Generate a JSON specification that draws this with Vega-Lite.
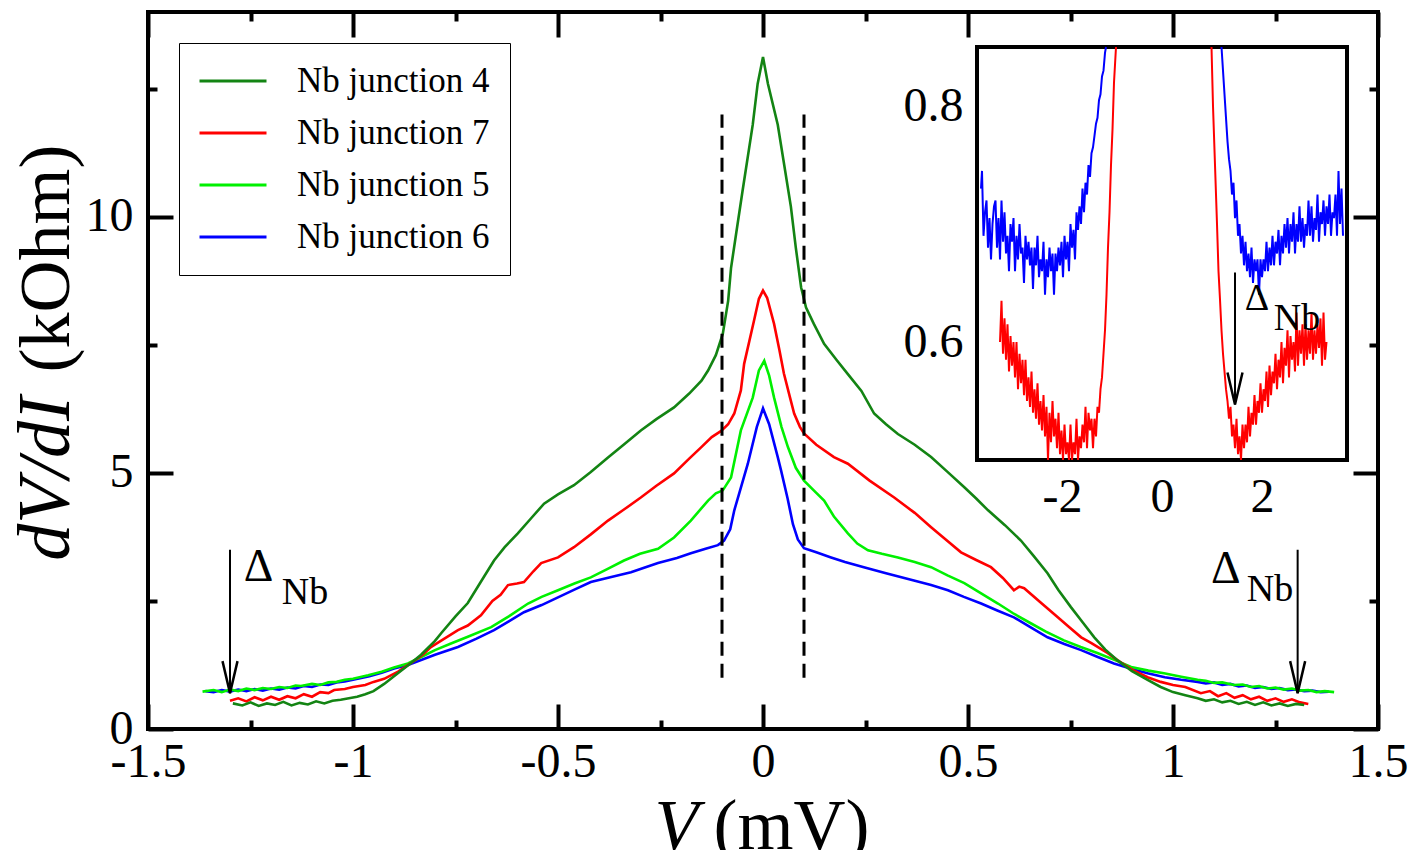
{
"$schema": "https://vega.github.io/schema/vega-lite/v6.json",
"width": 1230, "height": 717,
"autosize": {"type": "none"},
"padding": {"left": 148, "top": 12, "right": 30, "bottom": 121},
"background": "white",
"config": {
  "view": {"stroke": "black", "strokeWidth": 4},
  "axis": {"domain": false, "grid": false, "labelFont": "Liberation Serif", "labelFontSize": 48, "labelColor": "black", "tickColor": "black", "tickWidth": 4, "titleFont": "Liberation Serif", "titleFontSize": 72, "titleFontWeight": "normal", "titleColor": "black", "labelOverlap": false, "labelFlush": false, "zindex": 2},
  "text": {"font": "Liberation Serif", "color": "black"}
},
"datasets": {
  "main": [
{"s":"6","v":-1.36,"r":0.74},{"s":"6","v":-1.34,"r":0.72},{"s":"6","v":-1.32,"r":0.76},{"s":"6","v":-1.30,"r":0.73},{"s":"6","v":-1.28,"r":0.77},{"s":"6","v":-1.26,"r":0.74},{"s":"6","v":-1.24,"r":0.78},{"s":"6","v":-1.22,"r":0.75},{"s":"6","v":-1.20,"r":0.79},{"s":"6","v":-1.18,"r":0.77},{"s":"6","v":-1.16,"r":0.81},{"s":"6","v":-1.14,"r":0.79},{"s":"6","v":-1.12,"r":0.84},{"s":"6","v":-1.10,"r":0.82},{"s":"6","v":-1.08,"r":0.87},{"s":"6","v":-1.06,"r":0.86},{"s":"6","v":-1.04,"r":0.91},{"s":"6","v":-1.02,"r":0.93},{"s":"6","v":-1.0,"r":0.96},{"s":"6","v":-0.96,"r":1.03},{"s":"6","v":-0.93,"r":1.10},{"s":"6","v":-0.90,"r":1.18},{"s":"6","v":-0.866,"r":1.25},{"s":"6","v":-0.80,"r":1.45},{"s":"6","v":-0.744,"r":1.60},{"s":"6","v":-0.70,"r":1.76},{"s":"6","v":-0.656,"r":1.93},{"s":"6","v":-0.62,"r":2.10},{"s":"6","v":-0.583,"r":2.28},{"s":"6","v":-0.54,"r":2.42},{"s":"6","v":-0.50,"r":2.57},{"s":"6","v":-0.46,"r":2.72},{"s":"6","v":-0.42,"r":2.87},{"s":"6","v":-0.37,"r":2.97},{"s":"6","v":-0.322,"r":3.06},{"s":"6","v":-0.29,"r":3.15},{"s":"6","v":-0.256,"r":3.24},{"s":"6","v":-0.21,"r":3.34},{"s":"6","v":-0.176,"r":3.43},{"s":"6","v":-0.14,"r":3.52},{"s":"6","v":-0.11,"r":3.59},{"s":"6","v":-0.095,"r":3.68},{"s":"6","v":-0.08,"r":3.9},{"s":"6","v":-0.07,"r":4.27},{"s":"6","v":-0.058,"r":4.6},{"s":"6","v":-0.037,"r":5.18},{"s":"6","v":-0.015,"r":5.9},{"s":"6","v":0,"r":6.26},{"s":"6","v":0.015,"r":5.95},{"s":"6","v":0.036,"r":5.31},{"s":"6","v":0.044,"r":5.05},{"s":"6","v":0.06,"r":4.5},{"s":"6","v":0.073,"r":4.0},{"s":"6","v":0.085,"r":3.7},{"s":"6","v":0.1,"r":3.53},{"s":"6","v":0.13,"r":3.45},{"s":"6","v":0.166,"r":3.35},{"s":"6","v":0.2,"r":3.26},{"s":"6","v":0.246,"r":3.16},{"s":"6","v":0.3,"r":3.04},{"s":"6","v":0.368,"r":2.90},{"s":"6","v":0.41,"r":2.81},{"s":"6","v":0.451,"r":2.71},{"s":"6","v":0.49,"r":2.58},{"s":"6","v":0.532,"r":2.45},{"s":"6","v":0.57,"r":2.32},{"s":"6","v":0.612,"r":2.18},{"s":"6","v":0.65,"r":2.0},{"s":"6","v":0.694,"r":1.79},{"s":"6","v":0.735,"r":1.66},{"s":"6","v":0.776,"r":1.54},{"s":"6","v":0.815,"r":1.41},{"s":"6","v":0.856,"r":1.28},{"s":"6","v":0.9,"r":1.17},{"s":"6","v":0.938,"r":1.09},{"s":"6","v":0.98,"r":1.01},{"s":"6","v":1.02,"r":0.96},{"s":"6","v":1.06,"r":0.92},{"s":"6","v":1.08,"r":0.89},{"s":"6","v":1.10,"r":0.91},{"s":"6","v":1.12,"r":0.86},{"s":"6","v":1.14,"r":0.88},{"s":"6","v":1.16,"r":0.83},{"s":"6","v":1.18,"r":0.85},{"s":"6","v":1.20,"r":0.80},{"s":"6","v":1.22,"r":0.82},{"s":"6","v":1.24,"r":0.78},{"s":"6","v":1.26,"r":0.80},{"s":"6","v":1.28,"r":0.76},{"s":"6","v":1.30,"r":0.77},{"s":"6","v":1.32,"r":0.74},{"s":"6","v":1.34,"r":0.75},{"s":"6","v":1.36,"r":0.72},{"s":"6","v":1.38,"r":0.73},
{"s":"5","v":-1.367,"r":0.73},{"s":"5","v":-1.34,"r":0.76},{"s":"5","v":-1.32,"r":0.72},{"s":"5","v":-1.30,"r":0.77},{"s":"5","v":-1.28,"r":0.74},{"s":"5","v":-1.26,"r":0.79},{"s":"5","v":-1.24,"r":0.76},{"s":"5","v":-1.22,"r":0.80},{"s":"5","v":-1.20,"r":0.78},{"s":"5","v":-1.18,"r":0.82},{"s":"5","v":-1.16,"r":0.80},{"s":"5","v":-1.14,"r":0.85},{"s":"5","v":-1.127,"r":0.84},{"s":"5","v":-1.10,"r":0.88},{"s":"5","v":-1.08,"r":0.86},{"s":"5","v":-1.06,"r":0.91},{"s":"5","v":-1.04,"r":0.92},{"s":"5","v":-1.02,"r":0.96},{"s":"5","v":-1.0,"r":0.98},{"s":"5","v":-0.963,"r":1.05},{"s":"5","v":-0.93,"r":1.12},{"s":"5","v":-0.90,"r":1.2},{"s":"5","v":-0.866,"r":1.28},{"s":"5","v":-0.83,"r":1.42},{"s":"5","v":-0.80,"r":1.54},{"s":"5","v":-0.761,"r":1.67},{"s":"5","v":-0.72,"r":1.80},{"s":"5","v":-0.663,"r":1.99},{"s":"5","v":-0.62,"r":2.2},{"s":"5","v":-0.573,"r":2.45},{"s":"5","v":-0.54,"r":2.58},{"s":"5","v":-0.50,"r":2.71},{"s":"5","v":-0.46,"r":2.84},{"s":"5","v":-0.42,"r":2.96},{"s":"5","v":-0.38,"r":3.12},{"s":"5","v":-0.339,"r":3.29},{"s":"5","v":-0.30,"r":3.42},{"s":"5","v":-0.256,"r":3.52},{"s":"5","v":-0.217,"r":3.74},{"s":"5","v":-0.176,"r":4.07},{"s":"5","v":-0.134,"r":4.46},{"s":"5","v":-0.115,"r":4.6},{"s":"5","v":-0.098,"r":4.66},{"s":"5","v":-0.078,"r":4.91},{"s":"5","v":-0.054,"r":5.83},{"s":"5","v":-0.025,"r":6.47},{"s":"5","v":-0.01,"r":7.0},{"s":"5","v":0.003,"r":7.19},{"s":"5","v":0.015,"r":6.9},{"s":"5","v":0.027,"r":6.47},{"s":"5","v":0.045,"r":5.9},{"s":"5","v":0.061,"r":5.5},{"s":"5","v":0.08,"r":5.1},{"s":"5","v":0.1,"r":4.85},{"s":"5","v":0.125,"r":4.65},{"s":"5","v":0.149,"r":4.46},{"s":"5","v":0.173,"r":4.15},{"s":"5","v":0.207,"r":3.82},{"s":"5","v":0.23,"r":3.62},{"s":"5","v":0.256,"r":3.49},{"s":"5","v":0.29,"r":3.42},{"s":"5","v":0.329,"r":3.35},{"s":"5","v":0.37,"r":3.26},{"s":"5","v":0.41,"r":3.16},{"s":"5","v":0.45,"r":3.0},{"s":"5","v":0.491,"r":2.85},{"s":"5","v":0.53,"r":2.66},{"s":"5","v":0.573,"r":2.45},{"s":"5","v":0.61,"r":2.26},{"s":"5","v":0.654,"r":2.06},{"s":"5","v":0.69,"r":1.9},{"s":"5","v":0.734,"r":1.73},{"s":"5","v":0.775,"r":1.6},{"s":"5","v":0.817,"r":1.48},{"s":"5","v":0.86,"r":1.34},{"s":"5","v":0.898,"r":1.21},{"s":"5","v":0.94,"r":1.14},{"s":"5","v":0.978,"r":1.09},{"s":"5","v":1.02,"r":1.02},{"s":"5","v":1.06,"r":0.96},{"s":"5","v":1.08,"r":0.94},{"s":"5","v":1.10,"r":0.90},{"s":"5","v":1.12,"r":0.91},{"s":"5","v":1.149,"r":0.86},{"s":"5","v":1.17,"r":0.87},{"s":"5","v":1.19,"r":0.82},{"s":"5","v":1.21,"r":0.84},{"s":"5","v":1.23,"r":0.79},{"s":"5","v":1.25,"r":0.81},{"s":"5","v":1.27,"r":0.77},{"s":"5","v":1.29,"r":0.79},{"s":"5","v":1.31,"r":0.75},{"s":"5","v":1.33,"r":0.76},{"s":"5","v":1.35,"r":0.72},{"s":"5","v":1.37,"r":0.74},{"s":"5","v":1.393,"r":0.72},
{"s":"7","v":-1.30,"r":0.55},{"s":"7","v":-1.28,"r":0.60},{"s":"7","v":-1.26,"r":0.54},{"s":"7","v":-1.24,"r":0.62},{"s":"7","v":-1.22,"r":0.56},{"s":"7","v":-1.20,"r":0.63},{"s":"7","v":-1.18,"r":0.57},{"s":"7","v":-1.16,"r":0.64},{"s":"7","v":-1.14,"r":0.60},{"s":"7","v":-1.12,"r":0.68},{"s":"7","v":-1.10,"r":0.63},{"s":"7","v":-1.08,"r":0.72},{"s":"7","v":-1.06,"r":0.70},{"s":"7","v":-1.046,"r":0.76},{"s":"7","v":-1.02,"r":0.78},{"s":"7","v":-1.0,"r":0.82},{"s":"7","v":-0.97,"r":0.86},{"s":"7","v":-0.95,"r":0.92},{"s":"7","v":-0.924,"r":0.98},{"s":"7","v":-0.89,"r":1.12},{"s":"7","v":-0.86,"r":1.28},{"s":"7","v":-0.83,"r":1.45},{"s":"7","v":-0.81,"r":1.60},{"s":"7","v":-0.78,"r":1.75},{"s":"7","v":-0.744,"r":1.93},{"s":"7","v":-0.72,"r":2.02},{"s":"7","v":-0.688,"r":2.22},{"s":"7","v":-0.66,"r":2.5},{"s":"7","v":-0.64,"r":2.62},{"s":"7","v":-0.622,"r":2.81},{"s":"7","v":-0.60,"r":2.84},{"s":"7","v":-0.583,"r":2.87},{"s":"7","v":-0.56,"r":3.08},{"s":"7","v":-0.541,"r":3.24},{"s":"7","v":-0.50,"r":3.35},{"s":"7","v":-0.461,"r":3.55},{"s":"7","v":-0.42,"r":3.80},{"s":"7","v":-0.378,"r":4.07},{"s":"7","v":-0.34,"r":4.28},{"s":"7","v":-0.298,"r":4.52},{"s":"7","v":-0.26,"r":4.75},{"s":"7","v":-0.217,"r":4.99},{"s":"7","v":-0.18,"r":5.28},{"s":"7","v":-0.151,"r":5.5},{"s":"7","v":-0.125,"r":5.7},{"s":"7","v":-0.102,"r":5.82},{"s":"7","v":-0.085,"r":5.95},{"s":"7","v":-0.07,"r":6.16},{"s":"7","v":-0.054,"r":6.61},{"s":"7","v":-0.046,"r":7.13},{"s":"7","v":-0.022,"r":7.97},{"s":"7","v":-0.01,"r":8.4},{"s":"7","v":0,"r":8.56},{"s":"7","v":0.01,"r":8.42},{"s":"7","v":0.027,"r":7.91},{"s":"7","v":0.04,"r":7.4},{"s":"7","v":0.051,"r":6.94},{"s":"7","v":0.065,"r":6.5},{"s":"7","v":0.076,"r":6.16},{"s":"7","v":0.09,"r":5.9},{"s":"7","v":0.1,"r":5.77},{"s":"7","v":0.13,"r":5.55},{"s":"7","v":0.173,"r":5.31},{"s":"7","v":0.207,"r":5.18},{"s":"7","v":0.26,"r":4.85},{"s":"7","v":0.32,"r":4.52},{"s":"7","v":0.37,"r":4.22},{"s":"7","v":0.41,"r":3.94},{"s":"7","v":0.45,"r":3.67},{"s":"7","v":0.483,"r":3.45},{"s":"7","v":0.52,"r":3.3},{"s":"7","v":0.556,"r":3.16},{"s":"7","v":0.585,"r":2.95},{"s":"7","v":0.612,"r":2.71},{"s":"7","v":0.625,"r":2.78},{"s":"7","v":0.637,"r":2.75},{"s":"7","v":0.68,"r":2.45},{"s":"7","v":0.719,"r":2.18},{"s":"7","v":0.745,"r":2.0},{"s":"7","v":0.776,"r":1.79},{"s":"7","v":0.80,"r":1.68},{"s":"7","v":0.841,"r":1.48},{"s":"7","v":0.865,"r":1.34},{"s":"7","v":0.90,"r":1.16},{"s":"7","v":0.938,"r":1.01},{"s":"7","v":0.97,"r":0.92},{"s":"7","v":1.0,"r":0.86},{"s":"7","v":1.03,"r":0.82},{"s":"7","v":1.068,"r":0.70},{"s":"7","v":1.09,"r":0.74},{"s":"7","v":1.11,"r":0.64},{"s":"7","v":1.13,"r":0.70},{"s":"7","v":1.15,"r":0.61},{"s":"7","v":1.17,"r":0.66},{"s":"7","v":1.19,"r":0.58},{"s":"7","v":1.21,"r":0.63},{"s":"7","v":1.23,"r":0.55},{"s":"7","v":1.25,"r":0.60},{"s":"7","v":1.27,"r":0.53},{"s":"7","v":1.29,"r":0.58},{"s":"7","v":1.31,"r":0.52},{"s":"7","v":1.33,"r":0.49},
{"s":"4","v":-1.293,"r":0.50},{"s":"4","v":-1.27,"r":0.46},{"s":"4","v":-1.25,"r":0.52},{"s":"4","v":-1.23,"r":0.45},{"s":"4","v":-1.21,"r":0.50},{"s":"4","v":-1.19,"r":0.47},{"s":"4","v":-1.17,"r":0.53},{"s":"4","v":-1.15,"r":0.46},{"s":"4","v":-1.13,"r":0.51},{"s":"4","v":-1.11,"r":0.48},{"s":"4","v":-1.09,"r":0.54},{"s":"4","v":-1.07,"r":0.50},{"s":"4","v":-1.05,"r":0.55},{"s":"4","v":-1.03,"r":0.57},{"s":"4","v":-1.01,"r":0.60},{"s":"4","v":-0.99,"r":0.63},{"s":"4","v":-0.97,"r":0.68},{"s":"4","v":-0.95,"r":0.74},{"s":"4","v":-0.924,"r":0.88},{"s":"4","v":-0.90,"r":1.03},{"s":"4","v":-0.86,"r":1.28},{"s":"4","v":-0.834,"r":1.45},{"s":"4","v":-0.80,"r":1.72},{"s":"4","v":-0.785,"r":1.87},{"s":"4","v":-0.75,"r":2.20},{"s":"4","v":-0.72,"r":2.46},{"s":"4","v":-0.69,"r":2.85},{"s":"4","v":-0.656,"r":3.29},{"s":"4","v":-0.63,"r":3.55},{"s":"4","v":-0.598,"r":3.82},{"s":"4","v":-0.565,"r":4.12},{"s":"4","v":-0.534,"r":4.40},{"s":"4","v":-0.50,"r":4.58},{"s":"4","v":-0.461,"r":4.76},{"s":"4","v":-0.42,"r":5.02},{"s":"4","v":-0.378,"r":5.30},{"s":"4","v":-0.34,"r":5.55},{"s":"4","v":-0.298,"r":5.83},{"s":"4","v":-0.26,"r":6.05},{"s":"4","v":-0.217,"r":6.28},{"s":"4","v":-0.18,"r":6.55},{"s":"4","v":-0.15,"r":6.80},{"s":"4","v":-0.134,"r":7.00},{"s":"4","v":-0.115,"r":7.30},{"s":"4","v":-0.098,"r":7.72},{"s":"4","v":-0.085,"r":8.36},{"s":"4","v":-0.078,"r":9.0},{"s":"4","v":-0.065,"r":9.7},{"s":"4","v":-0.05,"r":10.5},{"s":"4","v":-0.025,"r":11.8},{"s":"4","v":-0.013,"r":12.6},{"s":"4","v":0,"r":13.12},{"s":"4","v":0.012,"r":12.6},{"s":"4","v":0.036,"r":11.8},{"s":"4","v":0.05,"r":11.1},{"s":"4","v":0.068,"r":10.2},{"s":"4","v":0.08,"r":9.4},{"s":"4","v":0.093,"r":8.62},{"s":"4","v":0.105,"r":8.23},{"s":"4","v":0.124,"r":7.91},{"s":"4","v":0.149,"r":7.52},{"s":"4","v":0.18,"r":7.20},{"s":"4","v":0.207,"r":6.93},{"s":"4","v":0.24,"r":6.60},{"s":"4","v":0.271,"r":6.16},{"s":"4","v":0.30,"r":5.95},{"s":"4","v":0.329,"r":5.76},{"s":"4","v":0.37,"r":5.55},{"s":"4","v":0.41,"r":5.31},{"s":"4","v":0.45,"r":5.02},{"s":"4","v":0.491,"r":4.72},{"s":"4","v":0.52,"r":4.50},{"s":"4","v":0.549,"r":4.27},{"s":"4","v":0.59,"r":3.98},{"s":"4","v":0.629,"r":3.68},{"s":"4","v":0.66,"r":3.38},{"s":"4","v":0.694,"r":3.04},{"s":"4","v":0.72,"r":2.72},{"s":"4","v":0.751,"r":2.38},{"s":"4","v":0.78,"r":2.08},{"s":"4","v":0.808,"r":1.79},{"s":"4","v":0.835,"r":1.55},{"s":"4","v":0.865,"r":1.34},{"s":"4","v":0.90,"r":1.13},{"s":"4","v":0.938,"r":0.96},{"s":"4","v":0.97,"r":0.82},{"s":"4","v":1.0,"r":0.72},{"s":"4","v":1.03,"r":0.66},{"s":"4","v":1.06,"r":0.60},{"s":"4","v":1.08,"r":0.55},{"s":"4","v":1.10,"r":0.58},{"s":"4","v":1.12,"r":0.52},{"s":"4","v":1.14,"r":0.55},{"s":"4","v":1.16,"r":0.49},{"s":"4","v":1.18,"r":0.53},{"s":"4","v":1.20,"r":0.47},{"s":"4","v":1.22,"r":0.52},{"s":"4","v":1.24,"r":0.46},{"s":"4","v":1.26,"r":0.50},{"s":"4","v":1.28,"r":0.45},{"s":"4","v":1.30,"r":0.49},{"s":"4","v":1.32,"r":0.47}
  ],
  "inset": [
{"s":"6","g":"L","v":-3.62,"r":0.73},{"s":"6","g":"L","v":-3.60,"r":0.745},{"s":"6","g":"L","v":-3.57,"r":0.69},{"s":"6","g":"L","v":-3.54,"r":0.71},{"s":"6","g":"L","v":-3.51,"r":0.72},{"s":"6","g":"L","v":-3.48,"r":0.68},{"s":"6","g":"L","v":-3.45,"r":0.705},{"s":"6","g":"L","v":-3.42,"r":0.67},{"s":"6","g":"L","v":-3.39,"r":0.70},{"s":"6","g":"L","v":-3.36,"r":0.715},{"s":"6","g":"L","v":-3.33,"r":0.72},{"s":"6","g":"L","v":-3.30,"r":0.68},{"s":"6","g":"L","v":-3.27,"r":0.705},{"s":"6","g":"L","v":-3.24,"r":0.67},{"s":"6","g":"L","v":-3.21,"r":0.72},{"s":"6","g":"L","v":-3.18,"r":0.685},{"s":"6","g":"L","v":-3.15,"r":0.71},{"s":"6","g":"L","v":-3.12,"r":0.675},{"s":"6","g":"L","v":-3.09,"r":0.69},{"s":"6","g":"L","v":-3.06,"r":0.66},{"s":"6","g":"L","v":-3.03,"r":0.70},{"s":"6","g":"L","v":-3.00,"r":0.685},{"s":"6","g":"L","v":-2.97,"r":0.705},{"s":"6","g":"L","v":-2.94,"r":0.66},{"s":"6","g":"L","v":-2.91,"r":0.69},{"s":"6","g":"L","v":-2.88,"r":0.67},{"s":"6","g":"L","v":-2.85,"r":0.70},{"s":"6","g":"L","v":-2.82,"r":0.675},{"s":"6","g":"L","v":-2.79,"r":0.68},{"s":"6","g":"L","v":-2.76,"r":0.65},{"s":"6","g":"L","v":-2.73,"r":0.69},{"s":"6","g":"L","v":-2.70,"r":0.67},{"s":"6","g":"L","v":-2.67,"r":0.685},{"s":"6","g":"L","v":-2.64,"r":0.665},{"s":"6","g":"L","v":-2.61,"r":0.68},{"s":"6","g":"L","v":-2.58,"r":0.645},{"s":"6","g":"L","v":-2.55,"r":0.68},{"s":"6","g":"L","v":-2.52,"r":0.665},{"s":"6","g":"L","v":-2.49,"r":0.69},{"s":"6","g":"L","v":-2.46,"r":0.655},{"s":"6","g":"L","v":-2.43,"r":0.67},{"s":"6","g":"L","v":-2.40,"r":0.66},{"s":"6","g":"L","v":-2.37,"r":0.685},{"s":"6","g":"L","v":-2.34,"r":0.64},{"s":"6","g":"L","v":-2.31,"r":0.67},{"s":"6","g":"L","v":-2.28,"r":0.655},{"s":"6","g":"L","v":-2.25,"r":0.68},{"s":"6","g":"L","v":-2.22,"r":0.66},{"s":"6","g":"L","v":-2.19,"r":0.675},{"s":"6","g":"L","v":-2.16,"r":0.64},{"s":"6","g":"L","v":-2.13,"r":0.675},{"s":"6","g":"L","v":-2.10,"r":0.66},{"s":"6","g":"L","v":-2.07,"r":0.68},{"s":"6","g":"L","v":-2.04,"r":0.665},{"s":"6","g":"L","v":-2.01,"r":0.685},{"s":"6","g":"L","v":-1.98,"r":0.655},{"s":"6","g":"L","v":-1.95,"r":0.69},{"s":"6","g":"L","v":-1.92,"r":0.67},{"s":"6","g":"L","v":-1.89,"r":0.685},{"s":"6","g":"L","v":-1.86,"r":0.66},{"s":"6","g":"L","v":-1.83,"r":0.70},{"s":"6","g":"L","v":-1.80,"r":0.68},{"s":"6","g":"L","v":-1.77,"r":0.695},{"s":"6","g":"L","v":-1.74,"r":0.67},{"s":"6","g":"L","v":-1.71,"r":0.71},{"s":"6","g":"L","v":-1.68,"r":0.695},{"s":"6","g":"L","v":-1.65,"r":0.715},{"s":"6","g":"L","v":-1.62,"r":0.70},{"s":"6","g":"L","v":-1.59,"r":0.73},{"s":"6","g":"L","v":-1.56,"r":0.71},{"s":"6","g":"L","v":-1.53,"r":0.735},{"s":"6","g":"L","v":-1.50,"r":0.725},{"s":"6","g":"L","v":-1.47,"r":0.75},{"s":"6","g":"L","v":-1.44,"r":0.74},{"s":"6","g":"L","v":-1.41,"r":0.76},{"s":"6","g":"L","v":-1.38,"r":0.765},{"s":"6","g":"L","v":-1.35,"r":0.775},{"s":"6","g":"L","v":-1.32,"r":0.785},{"s":"6","g":"L","v":-1.29,"r":0.79},{"s":"6","g":"L","v":-1.26,"r":0.805},{"s":"6","g":"L","v":-1.23,"r":0.81},{"s":"6","g":"L","v":-1.20,"r":0.825},{"s":"6","g":"L","v":-1.17,"r":0.83},{"s":"6","g":"L","v":-1.14,"r":0.845},{"s":"6","g":"L","v":-1.12,"r":0.85},
{"s":"6","g":"R","v":1.19,"r":0.85},{"s":"6","g":"R","v":1.22,"r":0.83},{"s":"6","g":"R","v":1.25,"r":0.81},{"s":"6","g":"R","v":1.28,"r":0.79},{"s":"6","g":"R","v":1.31,"r":0.77},{"s":"6","g":"R","v":1.34,"r":0.755},{"s":"6","g":"R","v":1.37,"r":0.745},{"s":"6","g":"R","v":1.40,"r":0.725},{"s":"6","g":"R","v":1.43,"r":0.735},{"s":"6","g":"R","v":1.46,"r":0.705},{"s":"6","g":"R","v":1.49,"r":0.72},{"s":"6","g":"R","v":1.52,"r":0.69},{"s":"6","g":"R","v":1.55,"r":0.70},{"s":"6","g":"R","v":1.58,"r":0.675},{"s":"6","g":"R","v":1.61,"r":0.69},{"s":"6","g":"R","v":1.64,"r":0.665},{"s":"6","g":"R","v":1.67,"r":0.685},{"s":"6","g":"R","v":1.70,"r":0.66},{"s":"6","g":"R","v":1.73,"r":0.675},{"s":"6","g":"R","v":1.76,"r":0.655},{"s":"6","g":"R","v":1.79,"r":0.68},{"s":"6","g":"R","v":1.82,"r":0.65},{"s":"6","g":"R","v":1.85,"r":0.67},{"s":"6","g":"R","v":1.88,"r":0.66},{"s":"6","g":"R","v":1.91,"r":0.67},{"s":"6","g":"R","v":1.94,"r":0.64},{"s":"6","g":"R","v":1.97,"r":0.67},{"s":"6","g":"R","v":2.00,"r":0.655},{"s":"6","g":"R","v":2.03,"r":0.67},{"s":"6","g":"R","v":2.06,"r":0.66},{"s":"6","g":"R","v":2.09,"r":0.685},{"s":"6","g":"R","v":2.12,"r":0.66},{"s":"6","g":"R","v":2.15,"r":0.68},{"s":"6","g":"R","v":2.18,"r":0.665},{"s":"6","g":"R","v":2.21,"r":0.69},{"s":"6","g":"R","v":2.24,"r":0.665},{"s":"6","g":"R","v":2.27,"r":0.685},{"s":"6","g":"R","v":2.30,"r":0.675},{"s":"6","g":"R","v":2.33,"r":0.695},{"s":"6","g":"R","v":2.36,"r":0.665},{"s":"6","g":"R","v":2.39,"r":0.69},{"s":"6","g":"R","v":2.42,"r":0.675},{"s":"6","g":"R","v":2.45,"r":0.70},{"s":"6","g":"R","v":2.48,"r":0.68},{"s":"6","g":"R","v":2.51,"r":0.705},{"s":"6","g":"R","v":2.54,"r":0.675},{"s":"6","g":"R","v":2.57,"r":0.70},{"s":"6","g":"R","v":2.60,"r":0.685},{"s":"6","g":"R","v":2.63,"r":0.71},{"s":"6","g":"R","v":2.66,"r":0.675},{"s":"6","g":"R","v":2.69,"r":0.70},{"s":"6","g":"R","v":2.72,"r":0.685},{"s":"6","g":"R","v":2.75,"r":0.715},{"s":"6","g":"R","v":2.78,"r":0.685},{"s":"6","g":"R","v":2.81,"r":0.705},{"s":"6","g":"R","v":2.84,"r":0.68},{"s":"6","g":"R","v":2.87,"r":0.70},{"s":"6","g":"R","v":2.90,"r":0.69},{"s":"6","g":"R","v":2.93,"r":0.72},{"s":"6","g":"R","v":2.96,"r":0.69},{"s":"6","g":"R","v":2.99,"r":0.715},{"s":"6","g":"R","v":3.02,"r":0.685},{"s":"6","g":"R","v":3.05,"r":0.705},{"s":"6","g":"R","v":3.08,"r":0.695},{"s":"6","g":"R","v":3.11,"r":0.725},{"s":"6","g":"R","v":3.14,"r":0.685},{"s":"6","g":"R","v":3.17,"r":0.71},{"s":"6","g":"R","v":3.20,"r":0.70},{"s":"6","g":"R","v":3.23,"r":0.72},{"s":"6","g":"R","v":3.26,"r":0.69},{"s":"6","g":"R","v":3.29,"r":0.715},{"s":"6","g":"R","v":3.32,"r":0.70},{"s":"6","g":"R","v":3.35,"r":0.725},{"s":"6","g":"R","v":3.38,"r":0.69},{"s":"6","g":"R","v":3.41,"r":0.71},{"s":"6","g":"R","v":3.44,"r":0.705},{"s":"6","g":"R","v":3.47,"r":0.725},{"s":"6","g":"R","v":3.50,"r":0.69},{"s":"6","g":"R","v":3.53,"r":0.745},{"s":"6","g":"R","v":3.56,"r":0.70},{"s":"6","g":"R","v":3.59,"r":0.73},{"s":"6","g":"R","v":3.62,"r":0.69},
{"s":"7","g":"L","v":-3.24,"r":0.60},{"s":"7","g":"L","v":-3.21,"r":0.635},{"s":"7","g":"L","v":-3.18,"r":0.59},{"s":"7","g":"L","v":-3.15,"r":0.62},{"s":"7","g":"L","v":-3.12,"r":0.585},{"s":"7","g":"L","v":-3.09,"r":0.615},{"s":"7","g":"L","v":-3.06,"r":0.575},{"s":"7","g":"L","v":-3.03,"r":0.605},{"s":"7","g":"L","v":-3.00,"r":0.58},{"s":"7","g":"L","v":-2.97,"r":0.60},{"s":"7","g":"L","v":-2.94,"r":0.57},{"s":"7","g":"L","v":-2.91,"r":0.60},{"s":"7","g":"L","v":-2.88,"r":0.56},{"s":"7","g":"L","v":-2.85,"r":0.59},{"s":"7","g":"L","v":-2.82,"r":0.565},{"s":"7","g":"L","v":-2.79,"r":0.585},{"s":"7","g":"L","v":-2.76,"r":0.555},{"s":"7","g":"L","v":-2.73,"r":0.585},{"s":"7","g":"L","v":-2.70,"r":0.55},{"s":"7","g":"L","v":-2.67,"r":0.57},{"s":"7","g":"L","v":-2.64,"r":0.545},{"s":"7","g":"L","v":-2.61,"r":0.575},{"s":"7","g":"L","v":-2.58,"r":0.54},{"s":"7","g":"L","v":-2.55,"r":0.56},{"s":"7","g":"L","v":-2.52,"r":0.535},{"s":"7","g":"L","v":-2.49,"r":0.565},{"s":"7","g":"L","v":-2.46,"r":0.53},{"s":"7","g":"L","v":-2.43,"r":0.55},{"s":"7","g":"L","v":-2.40,"r":0.525},{"s":"7","g":"L","v":-2.37,"r":0.555},{"s":"7","g":"L","v":-2.34,"r":0.52},{"s":"7","g":"L","v":-2.31,"r":0.545},{"s":"7","g":"L","v":-2.28,"r":0.50},{"s":"7","g":"L","v":-2.25,"r":0.54},{"s":"7","g":"L","v":-2.22,"r":0.515},{"s":"7","g":"L","v":-2.19,"r":0.55},{"s":"7","g":"L","v":-2.16,"r":0.52},{"s":"7","g":"L","v":-2.13,"r":0.535},{"s":"7","g":"L","v":-2.10,"r":0.51},{"s":"7","g":"L","v":-2.07,"r":0.54},{"s":"7","g":"L","v":-2.04,"r":0.505},{"s":"7","g":"L","v":-2.01,"r":0.525},{"s":"7","g":"L","v":-1.98,"r":0.50},{"s":"7","g":"L","v":-1.95,"r":0.53},{"s":"7","g":"L","v":-1.92,"r":0.505},{"s":"7","g":"L","v":-1.89,"r":0.515},{"s":"7","g":"L","v":-1.86,"r":0.50},{"s":"7","g":"L","v":-1.83,"r":0.53},{"s":"7","g":"L","v":-1.80,"r":0.50},{"s":"7","g":"L","v":-1.77,"r":0.515},{"s":"7","g":"L","v":-1.74,"r":0.505},{"s":"7","g":"L","v":-1.71,"r":0.535},{"s":"7","g":"L","v":-1.68,"r":0.50},{"s":"7","g":"L","v":-1.65,"r":0.52},{"s":"7","g":"L","v":-1.62,"r":0.51},{"s":"7","g":"L","v":-1.59,"r":0.53},{"s":"7","g":"L","v":-1.56,"r":0.515},{"s":"7","g":"L","v":-1.53,"r":0.545},{"s":"7","g":"L","v":-1.50,"r":0.51},{"s":"7","g":"L","v":-1.47,"r":0.54},{"s":"7","g":"L","v":-1.44,"r":0.525},{"s":"7","g":"L","v":-1.41,"r":0.535},{"s":"7","g":"L","v":-1.38,"r":0.51},{"s":"7","g":"L","v":-1.35,"r":0.535},{"s":"7","g":"L","v":-1.32,"r":0.52},{"s":"7","g":"L","v":-1.29,"r":0.545},{"s":"7","g":"L","v":-1.26,"r":0.54},{"s":"7","g":"L","v":-1.23,"r":0.56},{"s":"7","g":"L","v":-1.20,"r":0.57},{"s":"7","g":"L","v":-1.17,"r":0.59},{"s":"7","g":"L","v":-1.14,"r":0.61},{"s":"7","g":"L","v":-1.11,"r":0.64},{"s":"7","g":"L","v":-1.08,"r":0.68},{"s":"7","g":"L","v":-1.05,"r":0.71},{"s":"7","g":"L","v":-1.02,"r":0.75},{"s":"7","g":"L","v":-0.99,"r":0.78},{"s":"7","g":"L","v":-0.96,"r":0.82},{"s":"7","g":"L","v":-0.92,"r":0.85},
{"s":"7","g":"R","v":0.99,"r":0.85},{"s":"7","g":"R","v":1.02,"r":0.80},{"s":"7","g":"R","v":1.06,"r":0.75},{"s":"7","g":"R","v":1.10,"r":0.70},{"s":"7","g":"R","v":1.13,"r":0.66},{"s":"7","g":"R","v":1.16,"r":0.636},{"s":"7","g":"R","v":1.19,"r":0.61},{"s":"7","g":"R","v":1.22,"r":0.59},{"s":"7","g":"R","v":1.25,"r":0.575},{"s":"7","g":"R","v":1.28,"r":0.56},{"s":"7","g":"R","v":1.31,"r":0.55},{"s":"7","g":"R","v":1.34,"r":0.535},{"s":"7","g":"R","v":1.37,"r":0.545},{"s":"7","g":"R","v":1.40,"r":0.52},{"s":"7","g":"R","v":1.43,"r":0.53},{"s":"7","g":"R","v":1.46,"r":0.51},{"s":"7","g":"R","v":1.49,"r":0.535},{"s":"7","g":"R","v":1.52,"r":0.505},{"s":"7","g":"R","v":1.55,"r":0.52},{"s":"7","g":"R","v":1.58,"r":0.50},{"s":"7","g":"R","v":1.61,"r":0.53},{"s":"7","g":"R","v":1.64,"r":0.51},{"s":"7","g":"R","v":1.67,"r":0.53},{"s":"7","g":"R","v":1.70,"r":0.515},{"s":"7","g":"R","v":1.73,"r":0.545},{"s":"7","g":"R","v":1.76,"r":0.52},{"s":"7","g":"R","v":1.79,"r":0.54},{"s":"7","g":"R","v":1.82,"r":0.53},{"s":"7","g":"R","v":1.85,"r":0.555},{"s":"7","g":"R","v":1.88,"r":0.53},{"s":"7","g":"R","v":1.91,"r":0.55},{"s":"7","g":"R","v":1.94,"r":0.54},{"s":"7","g":"R","v":1.97,"r":0.565},{"s":"7","g":"R","v":2.00,"r":0.54},{"s":"7","g":"R","v":2.03,"r":0.56},{"s":"7","g":"R","v":2.06,"r":0.55},{"s":"7","g":"R","v":2.09,"r":0.575},{"s":"7","g":"R","v":2.12,"r":0.545},{"s":"7","g":"R","v":2.15,"r":0.58},{"s":"7","g":"R","v":2.18,"r":0.555},{"s":"7","g":"R","v":2.21,"r":0.575},{"s":"7","g":"R","v":2.24,"r":0.565},{"s":"7","g":"R","v":2.27,"r":0.59},{"s":"7","g":"R","v":2.30,"r":0.56},{"s":"7","g":"R","v":2.33,"r":0.585},{"s":"7","g":"R","v":2.36,"r":0.57},{"s":"7","g":"R","v":2.39,"r":0.60},{"s":"7","g":"R","v":2.42,"r":0.565},{"s":"7","g":"R","v":2.45,"r":0.595},{"s":"7","g":"R","v":2.48,"r":0.58},{"s":"7","g":"R","v":2.51,"r":0.61},{"s":"7","g":"R","v":2.54,"r":0.57},{"s":"7","g":"R","v":2.57,"r":0.605},{"s":"7","g":"R","v":2.60,"r":0.585},{"s":"7","g":"R","v":2.63,"r":0.60},{"s":"7","g":"R","v":2.66,"r":0.575},{"s":"7","g":"R","v":2.69,"r":0.625},{"s":"7","g":"R","v":2.72,"r":0.58},{"s":"7","g":"R","v":2.75,"r":0.61},{"s":"7","g":"R","v":2.78,"r":0.59},{"s":"7","g":"R","v":2.81,"r":0.615},{"s":"7","g":"R","v":2.84,"r":0.58},{"s":"7","g":"R","v":2.87,"r":0.615},{"s":"7","g":"R","v":2.90,"r":0.585},{"s":"7","g":"R","v":2.93,"r":0.61},{"s":"7","g":"R","v":2.96,"r":0.59},{"s":"7","g":"R","v":2.99,"r":0.625},{"s":"7","g":"R","v":3.02,"r":0.585},{"s":"7","g":"R","v":3.05,"r":0.61},{"s":"7","g":"R","v":3.08,"r":0.59},{"s":"7","g":"R","v":3.11,"r":0.615},{"s":"7","g":"R","v":3.14,"r":0.595},{"s":"7","g":"R","v":3.17,"r":0.62},{"s":"7","g":"R","v":3.20,"r":0.58},{"s":"7","g":"R","v":3.23,"r":0.625},{"s":"7","g":"R","v":3.26,"r":0.585},{"s":"7","g":"R","v":3.29,"r":0.60}
  ],
  "dashes": [{"v": -0.1, "r1": 1, "r2": 12}, {"v": 0.1, "r1": 1, "r2": 12}],
  "arrows": [{"v": -1.3, "r1": 3.5, "r2": 0.70}, {"v": 1.304, "r1": 3.5, "r2": 0.70}],
  "labels": [{"k": "d", "t": "Δ", "v": -1.2305, "r": 3.164}, {"k": "n", "t": "Nb", "v": -1.117, "r": 2.656}, {"k": "d", "t": "Δ", "v": 1.129, "r": 3.125}, {"k": "n", "t": "Nb", "v": 1.2366, "r": 2.715}],
  "iframe": [{"x1": -3.7, "x2": 3.7, "y1": 0.5, "y2": 0.85}],
  "iarrow": [{"v": 1.46, "r1": 0.659, "r2": 0.547}],
  "ilabels": [{"k": "d", "t": "Δ", "v": 1.9, "r": 0.6364}, {"k": "n", "t": "Nb", "v": 2.7, "r": 0.6195}]
},
"layer": [
  {
    "layer": [
      {
        "data": {"name": "main"},
        "mark": {"type": "line", "strokeWidth": 2.6},
        "encoding": {
          "x": {"field": "v", "type": "quantitative", "scale": {"domain": [-1.5, 1.5], "nice": false, "zero": false},
            "axis": {"orient": "bottom", "values": [-1.5,-1.25,-1,-0.75,-0.5,-0.25,0,0.25,0.5,0.75,1,1.25,1.5],
              "labelExpr": "abs(datum.value*2-round(datum.value*2))<0.001 ? toString(datum.value) : ''",
              "tickSize": {"condition": {"test": "abs(datum.value*2-round(datum.value*2))<0.001", "value": -25}, "value": -9},
              "labelPadding": 34, "title": "(mV)", "titleX": 643, "titleY": 119, "titleAlign": "center", "titleBaseline": "alphabetic"}},
          "y": {"field": "r", "type": "quantitative", "scale": {"domain": [0, 14], "nice": false, "zero": false},
            "axis": {"orient": "left", "values": [0, 2.5, 5, 7.5, 10, 12.5],
              "labelExpr": "datum.value % 5 == 0 ? toString(datum.value) : ''",
              "tickSize": {"condition": {"test": "datum.value % 5 == 0", "value": -25}, "value": -9},
              "labelPadding": 40, "title": "(kOhm)", "titleAngle": -90, "titleX": -80, "titleY": 246, "titleAlign": "center", "titleBaseline": "alphabetic"}},
          "color": {"field": "s", "type": "nominal",
            "scale": {"domain": ["4", "7", "5", "6"], "range": ["#138413", "#ff0000", "#00f000", "#0000ff"]},
            "legend": {"title": null, "orient": "top-left", "offset": 31, "labelExpr": "'Nb junction ' + datum.label",
              "symbolType": "M-1.06,0H3.0", "symbolSize": 1089, "symbolStrokeWidth": 3,
              "labelFont": "Liberation Serif", "labelFontSize": 35, "labelColor": "black", "labelOffset": 62, "labelLimit": 400,
              "rowPadding": 16, "padding": 20, "strokeColor": "black", "fillColor": "white"}}
        }
      },
      {
        "data": {"name": "dashes"},
        "mark": {"type": "rule", "strokeDash": [14, 8], "strokeWidth": 3, "color": "black"},
        "encoding": {
          "x": {"field": "v", "type": "quantitative", "scale": {"domain": [-1.5, 1.5], "nice": false, "zero": false},
            "axis": {"orient": "top", "values": [-1.5,-1.25,-1,-0.75,-0.5,-0.25,0,0.25,0.5,0.75,1,1.25,1.5], "labels": false, "title": null,
              "tickSize": {"condition": {"test": "abs(datum.value*2-round(datum.value*2))<0.001", "value": -25}, "value": -9}}},
          "y": {"field": "r1", "type": "quantitative", "scale": {"domain": [0, 14], "nice": false, "zero": false},
            "axis": {"orient": "right", "values": [0, 2.5, 5, 7.5, 10, 12.5], "labels": false, "title": null,
              "tickSize": {"condition": {"test": "datum.value % 5 == 0", "value": -25}, "value": -9}}},
          "y2": {"field": "r2"}
        }
      },
      {
        "data": {"name": "arrows"},
        "mark": {"type": "rule", "strokeWidth": 2, "color": "black"},
        "encoding": {
          "x": {"field": "v", "type": "quantitative", "scale": {"domain": [-1.5, 1.5], "nice": false, "zero": false},
            "axis": {"orient": "bottom", "labels": false, "ticks": false, "title": "V", "titleFontStyle": "italic", "titleX": 528, "titleY": 119, "titleAlign": "center", "titleBaseline": "alphabetic"}},
          "y": {"field": "r1", "type": "quantitative", "scale": {"domain": [0, 14], "nice": false, "zero": false},
            "axis": {"orient": "left", "labels": false, "ticks": false, "title": "dV/dI", "titleFontStyle": "italic", "titleFontSize": 74, "titleAngle": -90, "titleX": -80, "titleY": 466, "titleAlign": "center", "titleBaseline": "alphabetic"}},
          "y2": {"field": "r2"}
        }
      },
      {
        "data": {"name": "arrows"},
        "mark": {"type": "point", "shape": "M-0.47,-2L0,0L0.47,-2", "size": 1024, "filled": false, "stroke": "black", "strokeWidth": 2.5, "opacity": 1},
        "encoding": {
          "x": {"field": "v", "type": "quantitative", "axis": null},
          "y": {"field": "r2", "type": "quantitative", "axis": null}
        }
      },
      {
        "data": {"name": "labels"},
        "transform": [{"filter": "datum.k == 'd'"}],
        "mark": {"type": "text", "fontSize": 46, "font": "Liberation Serif", "align": "center", "baseline": "middle"},
        "encoding": {
          "x": {"field": "v", "type": "quantitative", "axis": null},
          "y": {"field": "r", "type": "quantitative", "axis": null},
          "text": {"field": "t"}
        }
      },
      {
        "data": {"name": "labels"},
        "transform": [{"filter": "datum.k == 'n'"}],
        "mark": {"type": "text", "fontSize": 38, "font": "Liberation Serif", "align": "center", "baseline": "middle"},
        "encoding": {
          "x": {"field": "v", "type": "quantitative", "axis": null},
          "y": {"field": "r", "type": "quantitative", "axis": null},
          "text": {"field": "t"}
        }
      }
    ],
    "resolve": {"axis": {"x": "independent", "y": "independent"}}
  },
  {
    "layer": [
      {
        "data": {"name": "iframe"},
        "mark": {"type": "rect", "fill": "white", "stroke": "black", "strokeWidth": 4},
        "encoding": {
          "x": {"field": "x1", "type": "quantitative", "scale": {"domain": [-20.28, 4.32], "nice": false, "zero": false},
            "axis": {"orient": "bottom", "offset": -269, "values": [-3,-2,-1,0,1,2,3],
              "labelExpr": "datum.value % 2 == 0 ? toString(datum.value) : ''",
              "tickSize": {"condition": {"test": "datum.value % 2 == 0", "value": -23}, "value": -8},
              "labelPadding": 36, "title": null}},
          "x2": {"field": "x2"},
          "y": {"field": "y1", "type": "quantitative", "scale": {"domain": [0.272, 0.8797], "nice": false, "zero": false},
            "axis": {"orient": "left", "offset": -829, "values": [0.6, 0.7, 0.8],
              "labelExpr": "abs(datum.value-0.7)>0.01 ? toString(datum.value) : ''",
              "tickSize": {"condition": {"test": "abs(datum.value-0.7)>0.01", "value": -23}, "value": -8},
              "labelPadding": 37, "title": null}},
          "y2": {"field": "y2"}
        }
      },
      {
        "data": {"name": "inset"},
        "mark": {"type": "line", "strokeWidth": 2},
        "encoding": {
          "x": {"field": "v", "type": "quantitative", "scale": {"domain": [-20.28, 4.32], "nice": false, "zero": false},
            "axis": {"orient": "top", "offset": -35, "values": [-3,-2,-1,0,1,2,3], "labels": false, "title": null,
              "tickSize": {"condition": {"test": "datum.value % 2 == 0", "value": -23}, "value": -8}}},
          "y": {"field": "r", "type": "quantitative", "scale": {"domain": [0.272, 0.8797], "nice": false, "zero": false},
            "axis": {"orient": "right", "offset": -31, "values": [0.6, 0.7, 0.8], "labels": false, "title": null,
              "tickSize": {"condition": {"test": "abs(datum.value-0.7)>0.01", "value": -23}, "value": -8}}},
          "color": {"field": "s", "type": "nominal", "legend": null},
          "detail": {"field": "g"}
        }
      },
      {
        "data": {"name": "iarrow"},
        "mark": {"type": "rule", "strokeWidth": 2, "color": "black"},
        "encoding": {
          "x": {"field": "v", "type": "quantitative", "axis": null},
          "y": {"field": "r1", "type": "quantitative", "axis": null},
          "y2": {"field": "r2"}
        }
      },
      {
        "data": {"name": "iarrow"},
        "mark": {"type": "point", "shape": "M-0.47,-2L0,0L0.47,-2", "size": 1024, "filled": false, "stroke": "black", "strokeWidth": 2.5, "opacity": 1},
        "encoding": {
          "x": {"field": "v", "type": "quantitative", "axis": null},
          "y": {"field": "r2", "type": "quantitative", "axis": null}
        }
      },
      {
        "data": {"name": "ilabels"},
        "mark": {"type": "text", "fontSize": 38, "font": "Liberation Serif", "align": "center", "baseline": "middle"},
        "encoding": {
          "x": {"field": "v", "type": "quantitative", "axis": null},
          "y": {"field": "r", "type": "quantitative", "axis": null},
          "text": {"field": "t"}
        }
      }
    ],
    "resolve": {"axis": {"x": "independent", "y": "independent"}}
  }
],
"resolve": {"scale": {"x": "independent", "y": "independent"}}
}
